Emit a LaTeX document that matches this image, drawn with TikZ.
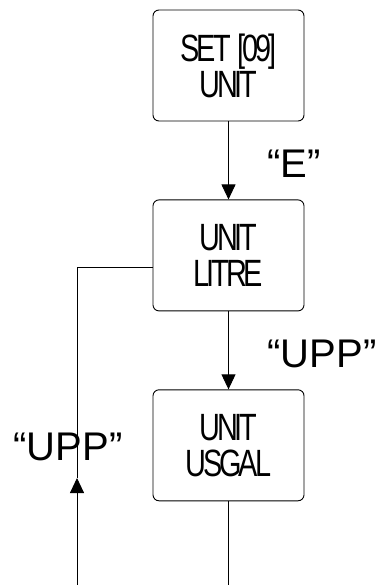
\documentclass[tikz,border=0pt]{standalone}
\usepackage{fontspec}
\setmainfont{Liberation Sans}
\usetikzlibrary{positioning,arrows.meta}
\newcommand\squeeze[1]{\scalebox{0.76}[1]{\addfontfeature{LetterSpace=-11}#1}}

\begin{document}
\begin{tikzpicture}[
  x=1pt, y=-1pt,
  every path/.style={line width=0.9pt},
  menu box/.style={draw, rounded corners=6pt, minimum width=151pt, minimum height=111pt,
    align=center, inner sep=0pt, font=\fontsize{38}{36}\selectfont},
  key label/.style={inner sep=0pt, anchor=base west, font=\fontsize{40}{40}\selectfont},
  >={Triangle[length=15pt,width=14pt]},
  node distance=78pt,
]
\useasboundingbox (0,0) rectangle (384,585);

\node[menu box] (set) at (228.5,65.5) {\squeeze{SET\hspace{9pt}[09]}\\\squeeze{UNIT}};
\node[menu box, below=of set] (litre) {\squeeze{UNIT}\\\squeeze{LITRE}};
\node[menu box, below=of litre] (usgal) {\squeeze{UNIT}\\\squeeze{USGAL}};

\node[key label] (keye) at (267,178) {“E”};
\node[key label] (keyupp) at (267,367) {“UPP”};
\node[key label] (keyback) at (13,460) {“UPP”};

\coordinate (loopin) at (77,585);
\coordinate (looptip) at (77,478);
\coordinate (loopout) at (228.5,585);

\draw[->] (set) -- (litre);
\draw[->] (litre) -- (usgal);
\draw (usgal) -- (loopout);
\draw[->] (loopin) -- (looptip);
\draw (looptip) |- ([yshift=-12pt]litre.west);
\end{tikzpicture}
\end{document}
